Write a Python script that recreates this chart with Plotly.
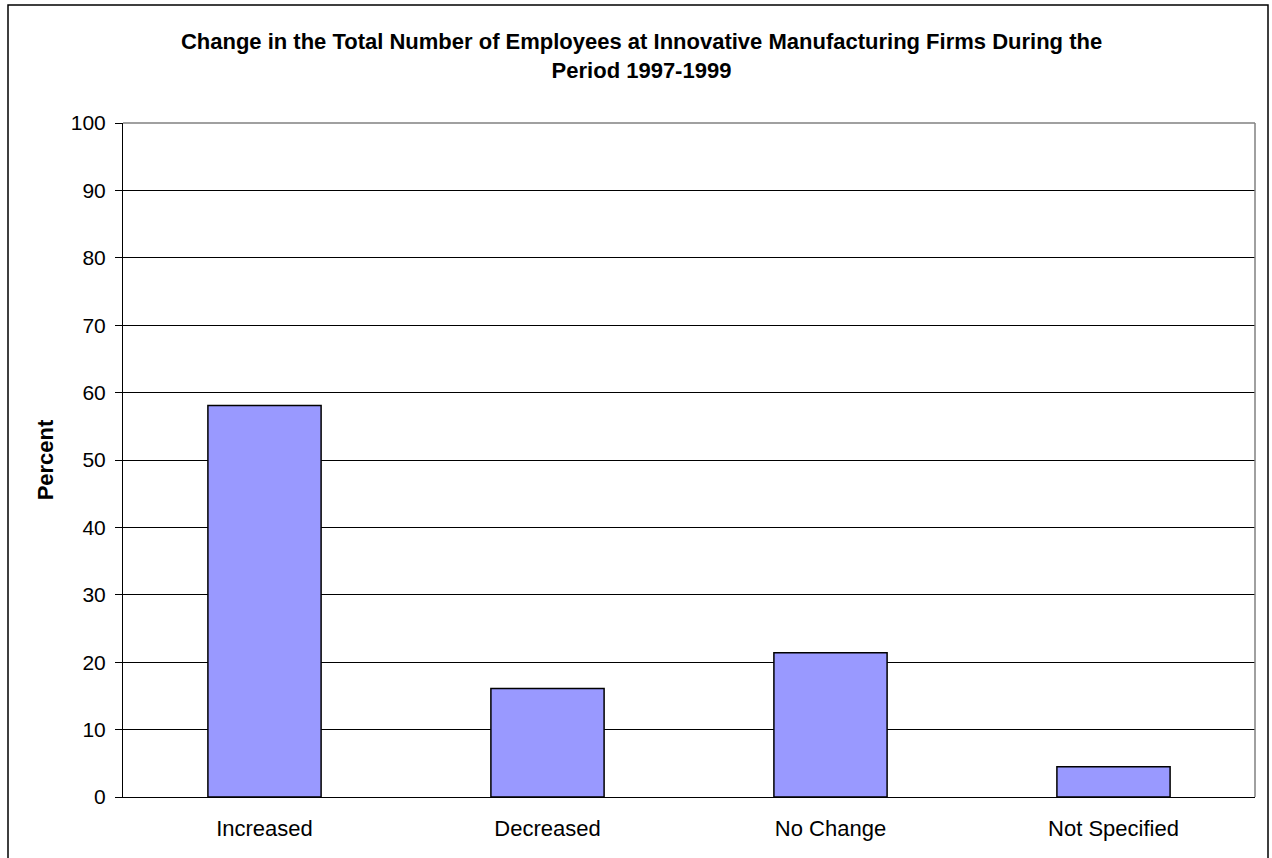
import plotly.graph_objects as go

# Survey results: share of innovative manufacturing firms by change in headcount
categories = ["Increased", "Decreased", "No Change", "Not Specified"]
percent = [58.1, 16.1, 21.4, 4.5]
y_ticks = [0, 10, 20, 30, 40, 50, 60, 70, 80, 90, 100]

W, H = 1272, 858
L, R, T, B = 123, 17, 123, 61
pw, ph = W - L - R, H - T - B


def px_x(x):
    return (x - L) / pw


def px_y(y):
    return (H - B - y) / ph


fig = go.Figure(
    go.Bar(
        x=categories,
        y=percent,
        marker=dict(color="#9999FF", line=dict(color="#000000", width=1.5)),
        width=0.4,
    )
)

font_family = "Arial, Liberation Sans, sans-serif"

fig.update_layout(
    width=W,
    height=H,
    margin=dict(l=L, r=R, t=T, b=B, pad=0),
    paper_bgcolor="white",
    plot_bgcolor="white",
    showlegend=False,
    font=dict(family=font_family, size=21, color="black"),
    title=dict(
        text="Change in the Total Number of Employees at Innovative Manufacturing Firms During the<br>Period 1997-1999",
        x=641.5 / W,
        xanchor="center",
        xref="container",
        y=1 - 49 / H,
        yanchor="top",
        yref="container",
        font=dict(family=font_family, size=22, color="black", weight="bold"),
    ),
    xaxis=dict(
        showgrid=False,
        showline=True,
        linecolor="black",
        linewidth=1,
        ticks="",
        ticklabelstandoff=12,
        tickfont=dict(size=22),
    ),
    yaxis=dict(
        range=[0, 100],
        tickvals=y_ticks,
        showgrid=True,
        gridcolor="black",
        gridwidth=1,
        showline=True,
        linecolor="black",
        linewidth=1,
        ticks="outside",
        ticklen=7,
        tickcolor="black",
        zeroline=False,
        ticklabelstandoff=5,
        tickfont=dict(size=21),
        title=dict(
            text="Percent",
            standoff=11,
            font=dict(size=22, weight="bold"),
        ),
    ),
    shapes=[
        # plot-area frame (top and right edges grey)
        dict(type="line", xref="paper", yref="paper", x0=0, x1=1, y0=1, y1=1,
             line=dict(color="#808080", width=1.5)),
        dict(type="line", xref="paper", yref="paper", x0=1, x1=1, y0=0, y1=1,
             line=dict(color="#808080", width=1.5)),
        # outer chart border
        dict(type="rect", xref="paper", yref="paper",
             x0=px_x(8), x1=px_x(1268), y0=px_y(H + 5), y1=px_y(5),
             line=dict(color="black", width=1.5), fillcolor="rgba(0,0,0,0)"),
    ],
)

fig.write_html("out.html")
